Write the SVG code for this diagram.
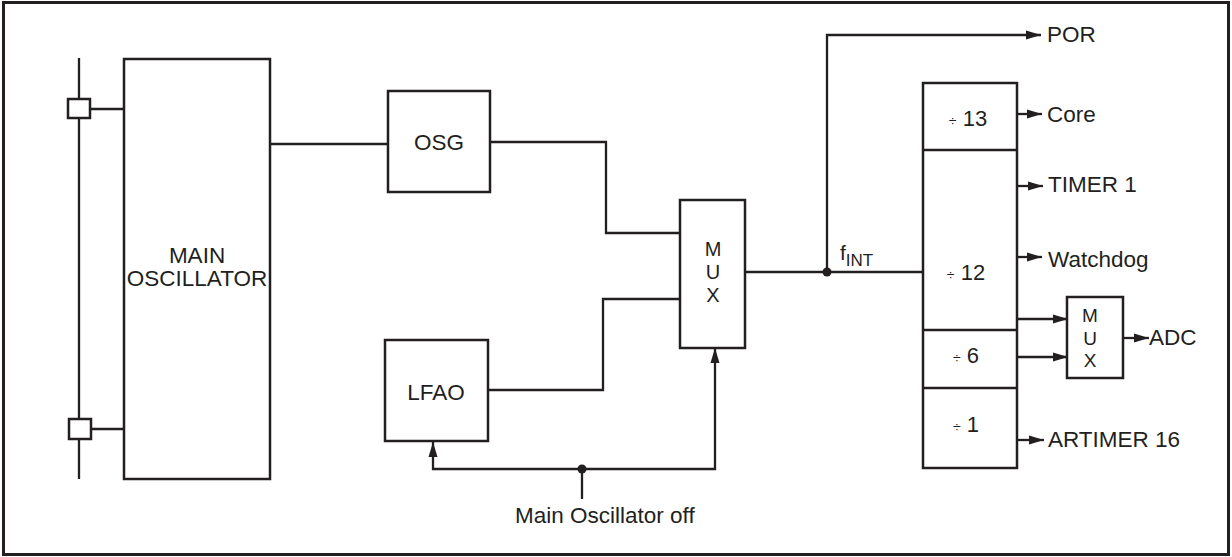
<svg xmlns="http://www.w3.org/2000/svg" width="1232" height="557" viewBox="0 0 1232 557">
<defs>
<marker id="ah" markerUnits="userSpaceOnUse" markerWidth="15" markerHeight="10" refX="15" refY="5" orient="auto">
<path d="M0,0.5 L15,5 L0,9.5 z" fill="#231f20"/>
</marker>
<style>
.box{fill:#fff;stroke:#231f20;stroke-width:2.5}
.ln{fill:none;stroke:#231f20;stroke-width:2.3}
.ar{fill:none;stroke:#231f20;stroke-width:2.3;marker-end:url(#ah)}
.t{font-family:"Liberation Sans",Arial,sans-serif;font-size:22.5px;fill:#231f20}
.m{text-anchor:middle}
.mx{font-family:"Liberation Sans",Arial,sans-serif;font-size:20px;fill:#231f20;text-anchor:middle}
.dv{font-family:"Liberation Sans",Arial,sans-serif;font-size:22px;fill:#231f20;text-anchor:middle}
</style>
</defs>
<rect x="3.5" y="2.5" width="1225" height="552" fill="#fff" stroke="#231f20" stroke-width="3"/>

<g id="connectors">
<line class="ln" x1="79" y1="58" x2="79" y2="479"/>
<line class="ln" x1="90" y1="109" x2="124" y2="109"/>
<line class="ln" x1="91" y1="429" x2="124" y2="429"/>
<line class="ln" x1="270" y1="144" x2="388" y2="144"/>
<polyline class="ln" points="490,142 606,142 606,233 680,233"/>
<polyline class="ln" points="488,390 603,390 603,299 680,299"/>
<line class="ln" x1="745" y1="272" x2="923" y2="272"/>
<polyline class="ar" points="827,272 827,35 1041,35"/>
<circle cx="827" cy="272" r="4.5" fill="#231f20"/>
<polyline class="ar" points="582,469 433,469 433,442"/>
<polyline class="ar" points="582,469 715,469 715,348"/>
<line class="ln" x1="582" y1="469" x2="582" y2="499"/>
<circle cx="582" cy="469" r="4.5" fill="#231f20"/>
<line class="ar" x1="1017" y1="114" x2="1042" y2="114"/>
<line class="ar" x1="1017" y1="186" x2="1043" y2="186"/>
<line class="ar" x1="1017" y1="257" x2="1042" y2="257"/>
<line class="ar" x1="1017" y1="440" x2="1044" y2="440"/>
<line class="ar" x1="1017" y1="319" x2="1068" y2="319"/>
<line class="ar" x1="1017" y1="357" x2="1068" y2="357"/>
<line class="ar" x1="1123" y1="338" x2="1149" y2="338"/>
</g>

<g id="pin-top"><rect class="box" x="68" y="99" width="22" height="19"/></g>
<g id="pin-bottom"><rect class="box" x="69" y="419" width="22" height="20"/></g>

<g id="main-oscillator">
<rect class="box" x="124" y="59" width="146" height="420"/>
<text class="t m" x="197" y="263">MAIN</text>
<text class="t m" x="197" y="286">OSCILLATOR</text>
</g>

<g id="osg">
<rect class="box" x="388" y="91" width="102" height="101"/>
<text class="t m" x="439" y="150">OSG</text>
</g>

<g id="lfao">
<rect class="box" x="385" y="340" width="103" height="101"/>
<text class="t m" x="436" y="400">LFAO</text>
</g>

<g id="mux">
<rect class="box" x="680" y="200" width="65" height="148"/>
<text class="mx" x="713" y="256">M</text>
<text class="mx" x="713" y="279">U</text>
<text class="mx" x="713" y="302">X</text>
</g>

<g id="fint">
<text class="t" x="840" y="260" style="font-size:21px">f<tspan dy="6" style="font-size:17px">INT</tspan></text>
</g>

<g id="divider">
<rect class="box" x="923" y="83" width="94" height="385"/>
<line class="ln" x1="923" y1="150" x2="1017" y2="150"/>
<line class="ln" x1="923" y1="330" x2="1017" y2="330"/>
<line class="ln" x1="923" y1="388" x2="1017" y2="388"/>
<text class="dv" x="968" y="126"><tspan style="font-size:14px">÷</tspan> 13</text>
<text class="dv" x="966" y="280"><tspan style="font-size:14px">÷</tspan> 12</text>
<text class="dv" x="966" y="363"><tspan style="font-size:14px">÷</tspan> 6</text>
<text class="dv" x="966" y="432"><tspan style="font-size:14px">÷</tspan> 1</text>
</g>

<g id="adc-mux">
<rect class="box" x="1067" y="297" width="56" height="81"/>
<text class="mx" x="1090" y="322" style="font-size:19px">M</text>
<text class="mx" x="1090" y="345" style="font-size:19px">U</text>
<text class="mx" x="1090" y="367" style="font-size:19px">X</text>
</g>

<g id="labels">
<text class="t" x="1047" y="42">POR</text>
<text class="t" x="1047" y="122">Core</text>
<text class="t" x="1048" y="192">TIMER 1</text>
<text class="t" x="1048" y="267">Watchdog</text>
<text class="t" x="1149" y="345">ADC</text>
<text class="t" x="1048" y="447">ARTIMER 16</text>
<text class="t" x="515" y="523">Main Oscillator off</text>
</g>
</svg>
